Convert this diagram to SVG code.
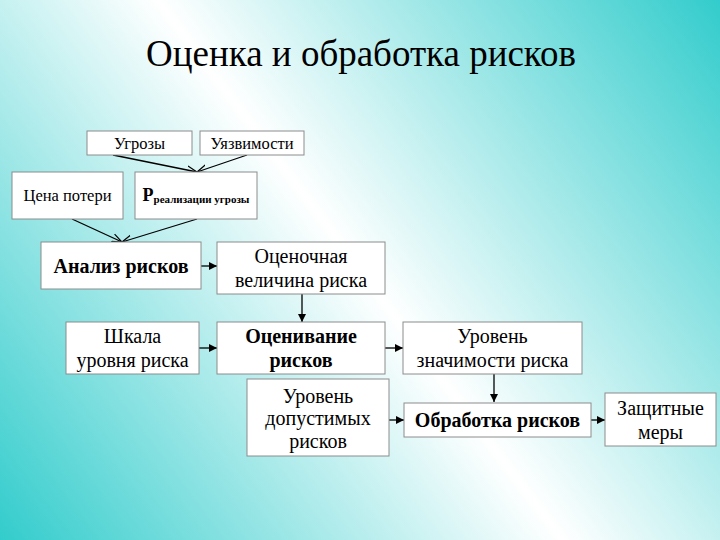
<svg xmlns="http://www.w3.org/2000/svg" width="720" height="540" viewBox="0 0 720 540">
<defs>
<linearGradient id="bg" gradientUnits="userSpaceOnUse" x1="720" y1="0" x2="0" y2="540">
<stop offset="0" stop-color="#33cccc"/>
<stop offset="0.5" stop-color="#ffffff"/>
<stop offset="1" stop-color="#33cccc"/>
</linearGradient>
<marker id="tri" viewBox="0 0 10 10" refX="10" refY="5" markerWidth="8" markerHeight="8" markerUnits="userSpaceOnUse" orient="auto">
<path d="M0,0 L10,5 L0,10 z" fill="#000"/>
</marker>
<marker id="vee" viewBox="0 0 10 10" refX="10" refY="5" markerWidth="10" markerHeight="10" markerUnits="userSpaceOnUse" orient="auto">
<path d="M0,1 L10,5 L0,9" fill="none" stroke="#000" stroke-width="1.2"/>
</marker>
</defs>
<style>
.box{fill:#fff;stroke:#8c8c8c;stroke-width:1}
.t{font-family:"Liberation Serif","Times New Roman",serif;fill:#000;text-anchor:middle}
.r16{font-size:16.5px}
.r20{font-size:20px}
.b20{font-size:20px;font-weight:bold}
.ln{stroke:#000;stroke-width:1.3;fill:none}
</style>
<rect width="720" height="540" fill="url(#bg)"/>
<text class="t" x="361" y="66" font-size="37" transform="translate(361 66) scale(1 1.05) translate(-361 -66)">Оценка и обработка рисков</text>

<g id="connectors">
<line class="ln" x1="113" y1="155" x2="197" y2="172" marker-end="url(#vee)"/>
<line class="ln" x1="247" y1="155" x2="197" y2="172" marker-end="url(#vee)"/>
<line class="ln" x1="72" y1="219" x2="122" y2="242" marker-end="url(#vee)"/>
<line class="ln" x1="197" y1="219" x2="122" y2="242" marker-end="url(#vee)"/>
<line class="ln" x1="201" y1="266" x2="217" y2="266" marker-end="url(#tri)"/>
<line class="ln" x1="302" y1="294" x2="302" y2="322" marker-end="url(#tri)"/>
<line class="ln" x1="199" y1="348" x2="217" y2="348" marker-end="url(#tri)"/>
<line class="ln" x1="385" y1="348" x2="403" y2="348" marker-end="url(#tri)"/>
<line class="ln" x1="494" y1="374" x2="494" y2="402" marker-end="url(#tri)"/>
<line class="ln" x1="389" y1="420" x2="404" y2="420" marker-end="url(#tri)"/>
<line class="ln" x1="591" y1="420" x2="605" y2="420" marker-end="url(#tri)"/>
</g>

<g id="ugrozy"><rect class="box" x="87" y="131" width="105" height="24"/><text class="t r16" x="139.5" y="148.5">Угрозы</text></g>
<g id="uyazvimosti"><rect class="box" x="200" y="131" width="104" height="24"/><text class="t r16" x="252" y="148.5">Уязвимости</text></g>
<g id="tsena"><rect class="box" x="12" y="172" width="111" height="47"/><text class="t r16" x="67.5" y="201">Цена потери</text></g>
<g id="prob"><rect class="box" x="135" y="172" width="122" height="47"/><text class="t" x="196" y="201" font-weight="bold"><tspan font-size="18">Р</tspan><tspan font-size="11" dy="2">реализации угрозы</tspan></text></g>
<g id="analiz"><rect class="box" x="41" y="242" width="160" height="47"/><text class="t b20" x="121" y="272.5">Анализ рисков</text></g>
<g id="otsenochnaya"><rect class="box" x="217" y="242" width="168" height="52"/><text class="t r20" x="301" y="262.5">Оценочная</text><text class="t r20" x="301" y="287">величина риска</text></g>
<g id="shkala"><rect class="box" x="66" y="322" width="133" height="52"/><text class="t r20" x="132.5" y="342.5">Шкала</text><text class="t r20" x="132.5" y="367">уровня риска</text></g>
<g id="otsenivanie"><rect class="box" x="217" y="322" width="168" height="52"/><text class="t b20" x="301" y="342.5">Оценивание</text><text class="t b20" x="301" y="367">рисков</text></g>
<g id="znachimost"><rect class="box" x="403" y="322" width="179" height="52"/><text class="t r20" x="492.5" y="342.5">Уровень</text><text class="t r20" x="492.5" y="367">значимости риска</text></g>
<g id="dopustimye"><rect class="box" x="247" y="379" width="142" height="77"/><text class="t r20" x="318" y="402.5">Уровень</text><text class="t r20" x="318" y="425">допустимых</text><text class="t r20" x="318" y="447.5">рисков</text></g>
<g id="obrabotka"><rect class="box" x="404" y="403" width="187" height="34"/><text class="t b20" x="497.5" y="426.5">Обработка рисков</text></g>
<g id="zashchitnye"><rect class="box" x="605" y="393" width="111" height="53"/><text class="t r20" x="660.5" y="414.5">Защитные</text><text class="t r20" x="660.5" y="439">меры</text></g>
</svg>
